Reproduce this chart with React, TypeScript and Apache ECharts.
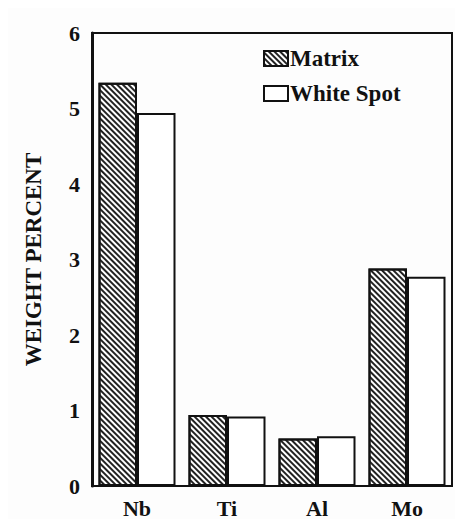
import React, { useEffect, useRef } from "react";
import * as echarts from "echarts";

const categories = ["Nb", "Ti", "Al", "Mo"];
const matrixValues = [5.34, 0.94, 0.63, 2.88];
const whiteSpotValues = [4.94, 0.92, 0.66, 2.77];
const yTicks = { min: 0, max: 6, interval: 1 };

const FONT = "'Liberation Serif', 'Times New Roman', serif";

export default function App() {
  const ref = useRef<HTMLDivElement>(null);
  useEffect(() => {
    if (!ref.current) return;
    const chart = echarts.init(ref.current, undefined, { renderer: "svg" });
    chart.setOption({
      animation: false,
      backgroundColor: "#fdfdfd",
      textStyle: { fontFamily: FONT },
      grid: {
        left: 84,
        right: 3,
        top: 25,
        bottom: 32,
        show: true,
        borderColor: "#111",
        borderWidth: 2,
      },
      legend: {
        orient: "vertical",
        left: 250,
        top: 34,
        itemGap: 12,
        itemWidth: 24,
        itemHeight: 15,
        icon: "rect",
        textStyle: { fontFamily: FONT, fontWeight: "bold", fontSize: 23, color: "#111", padding: [0, 0, 0, -3] },
        data: ["Matrix", "White Spot"],
      },
      xAxis: {
        type: "category",
        data: categories,
        axisTick: { show: false },
        axisLine: { lineStyle: { color: "#111", width: 2 } },
        axisLabel: { fontFamily: FONT, fontWeight: "bold", fontSize: 22, color: "#111", margin: 11 },
      },
      yAxis: {
        type: "value",
        min: yTicks.min,
        max: yTicks.max,
        interval: yTicks.interval,
        name: "WEIGHT PERCENT",
        nameLocation: "middle",
        nameGap: 47,
        nameTextStyle: { fontFamily: FONT, fontWeight: "bold", fontSize: 23, color: "#111" },
        splitLine: { show: false },
        axisTick: { show: false },
        axisLine: { show: true, lineStyle: { color: "#111", width: 3 } },
        axisLabel: { fontFamily: FONT, fontWeight: "bold", fontSize: 22, color: "#111", margin: 12 },
      },
      series: [
        {
          name: "Matrix",
          type: "bar",
          data: matrixValues,
          barWidth: 38.5,
          barGap: "0%",
          itemStyle: {
            color: "#ffffff",
            borderColor: "#111",
            borderWidth: 2,
            decal: {
              symbol: "rect",
              symbolSize: 1,
              color: "#222",
              dashArrayX: [1, 0],
              dashArrayY: [1.4, 1.6],
              rotation: Math.PI / 4,
            },
          },
        },
        {
          name: "White Spot",
          type: "bar",
          data: whiteSpotValues,
          barWidth: 38.5,
          barGap: "0%",
          itemStyle: { color: "#ffffff", borderColor: "#111", borderWidth: 2 },
        },
      ],
    });
    return () => chart.dispose();
  }, []);
  return <div ref={ref} style={{ width: 447, height: 511 }} />;
}
